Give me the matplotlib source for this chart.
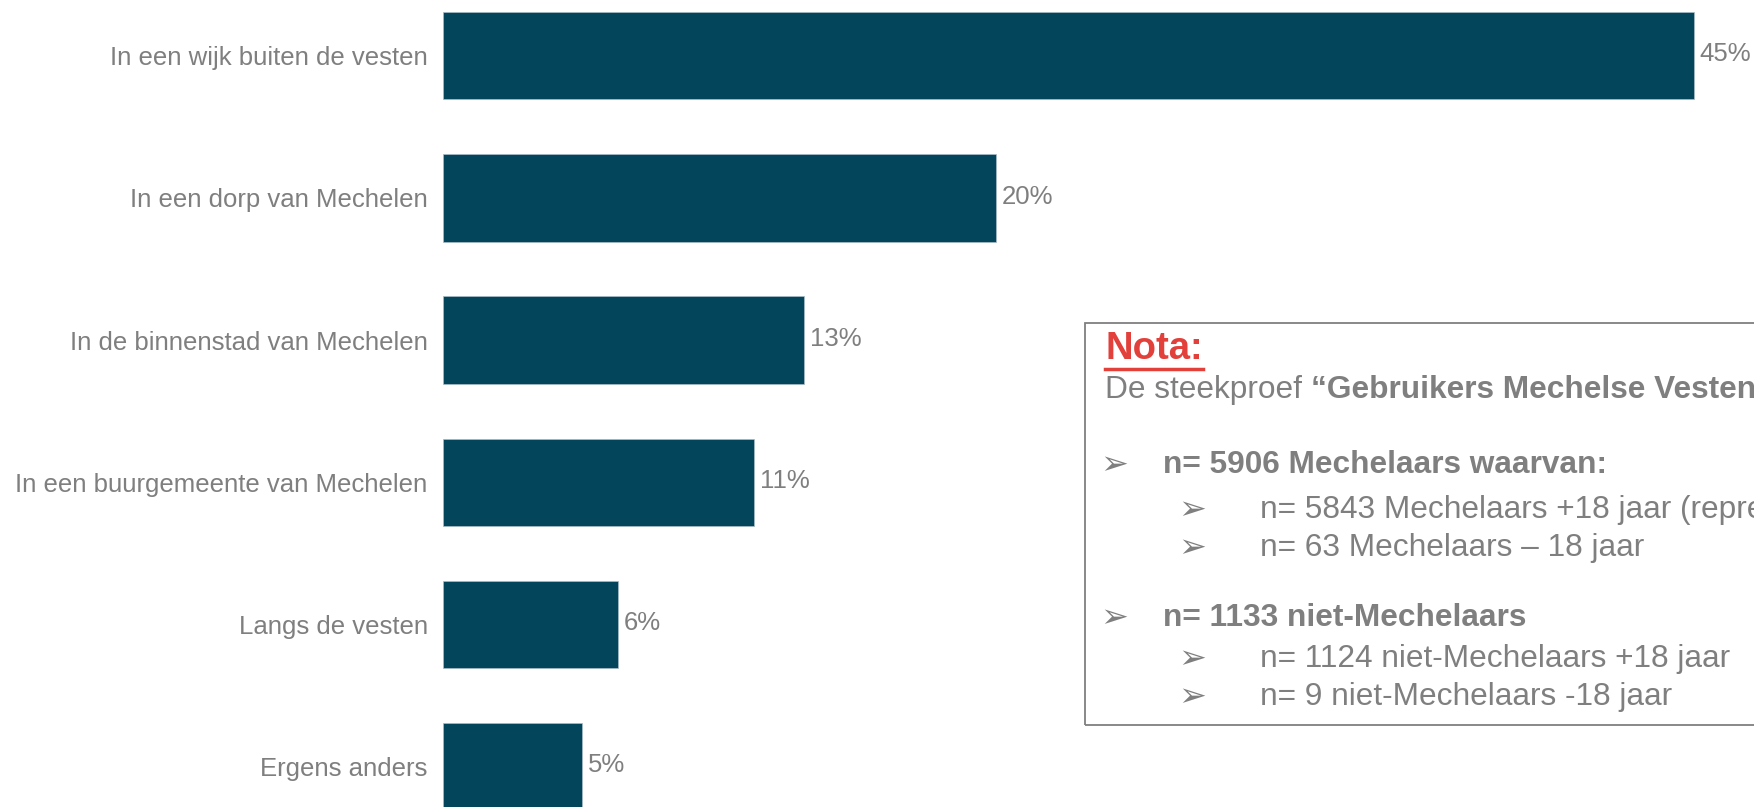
import matplotlib
matplotlib.use("Agg")
import matplotlib.pyplot as plt
from matplotlib.patches import Rectangle

plt.rcParams['font.family'] = ['Liberation Sans', 'DejaVu Sans']

categories = [
    "In een wijk buiten de vesten",
    "In een dorp van Mechelen",
    "In de binnenstad van Mechelen",
    "In een buurgemeente van Mechelen",
    "Langs de vesten",
    "Ergens anders",
]
values = [45.0, 19.9, 13.0, 11.2, 6.3, 5.0]
value_labels = ["45%", "20%", "13%", "11%", "6%", "5%"]

note_title = "Nota:"
note_intro_regular = "De steekproef "
note_intro_bold = "\u201cGebruikers Mechelse Vesten\u201d"
note_lines = [
    (1, True, "n= 5906 Mechelaars waarvan:"),
    (2, False, "n= 5843 Mechelaars +18 jaar (representatief)"),
    (2, False, "n= 63 Mechelaars \u2013 18 jaar"),
    (1, True, "n= 1133 niet-Mechelaars"),
    (2, False, "n= 1124 niet-Mechelaars +18 jaar"),
    (2, False, "n= 9 niet-Mechelaars -18 jaar"),
]

W, H, DPI = 1754, 807, 100
BAR = "#03465b"
GREY = "#7f7f7f"
RED = "#e2403a"

fig = plt.figure(figsize=(W / DPI, H / DPI), dpi=DPI)
fig.patch.set_facecolor("white")

px_per_pct = 27.8
x0 = 443
ax = fig.add_axes([x0 / W, 0, 1 - x0 / W, 1])
ax.set_xlim(0, (W - x0) / px_per_pct)
pitch = 142.2
c0 = 55.75
ax.set_ylim((H - c0) / pitch, -c0 / pitch)

ypos = list(range(len(categories)))
ax.barh(ypos, values, height=87.5 / pitch, color=BAR, edgecolor="#a9bcc8", linewidth=0.5)
for y, v, lab in zip(ypos, values, value_labels):
    ax.annotate(lab, xy=(v, y), xytext=(4, 1), textcoords="offset points",
                va="center", ha="left", fontsize=18.5, color=GREY, clip_on=False)

ax.set_yticks(ypos)
ax.set_yticklabels(categories, fontsize=18.5, color=GREY)
ax.tick_params(axis="y", length=0, pad=11)
ax.set_xticks([])
for s in ax.spines.values():
    s.set_visible(False)
ax.patch.set_alpha(0)

# Note box
def fy(py):
    return 1 - py / H

box = Rectangle((1085 / W, fy(725)), (W + 20 - 1085) / W, (725 - 323) / H,
                transform=fig.transFigure, fill=False, edgecolor=GREY,
                linewidth=1.3, clip_on=False)
fig.add_artist(box)

tx = 1105 / W
t_title = fig.text(tx, fy(349), note_title, fontsize=27.5, fontweight="bold",
                   color=RED, va="center", ha="left")
t_intro = fig.text(tx, fy(390), note_intro_regular, fontsize=22.8, color=GREY,
                   va="center", ha="left")

line_y = [465, 510, 548, 618, 659, 697]
arrow_x = {1: 1100, 2: 1178}
text_x = {1: 1163, 2: 1260}
for (lvl, bold, txt), py in zip(note_lines, line_y):
    fig.text(arrow_x[lvl] / W, fy(py), "\u27a2", fontsize=24, color=GREY,
             va="center", ha="left", family=["DejaVu Sans"])
    fig.text(text_x[lvl] / W, fy(py), txt, fontsize=22.8, color=GREY,
             fontweight="bold" if bold else "normal", va="center", ha="left")

fig.canvas.draw()
r = fig.canvas.get_renderer()
bb = t_intro.get_window_extent(r)
tb = fig.text(bb.x1 / W, fy(390), note_intro_bold, fontsize=22.8, color=GREY,
              fontweight="bold", va="center", ha="left")

# underline for title
bt = t_title.get_window_extent(r)
fig.add_artist(plt.Line2D([bt.x0 / W, bt.x1 / W], [(bt.y0 - 2) / H, (bt.y0 - 2) / H],
                          transform=fig.transFigure, color=RED, linewidth=2.5))

fig.savefig("out.png", dpi=DPI, facecolor="white")
